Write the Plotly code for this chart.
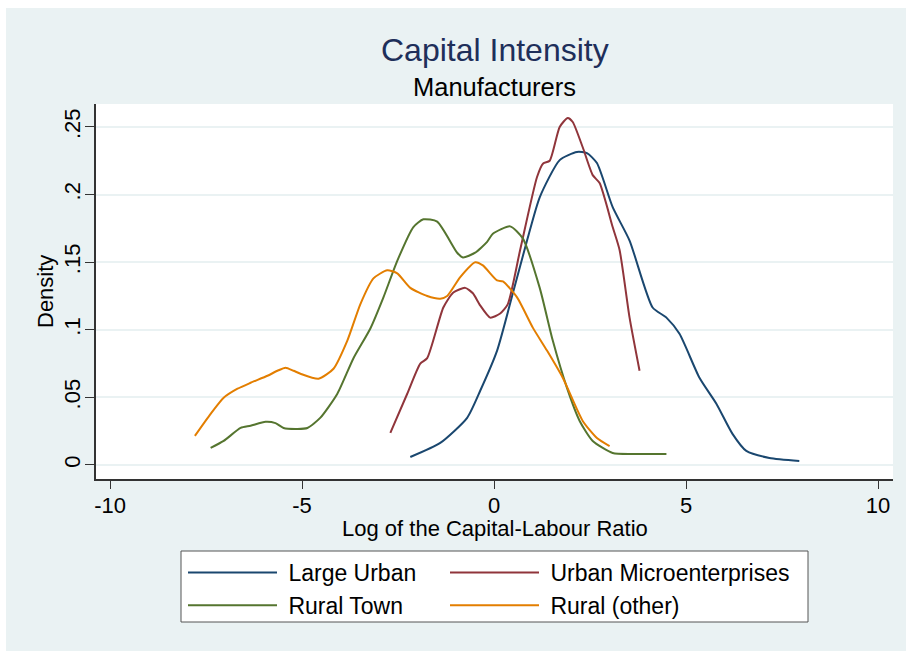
import plotly.graph_objects as go

# ---- data ----
large_urban_x = [-2.18, -1.40, -0.70, -0.36, 0.08, 0.49, 0.86, 1.19, 1.71, 2.16, 2.42, 2.68, 3.09, 3.53, 4.13, 4.49, 4.83, 5.35, 5.79, 6.21, 6.57, 7.17, 7.95]
large_urban_y = [0.0059, 0.0163, 0.0349, 0.0549, 0.0846, 0.127, 0.166, 0.198, 0.2255, 0.2315, 0.2307, 0.2233, 0.1907, 0.166, 0.1165, 0.109, 0.097, 0.0645, 0.0453, 0.023, 0.0104, 0.0052, 0.003]

urban_micro_x = [-2.70, -2.26, -1.92, -1.74, -1.32, -1.06, -0.75, -0.55, -0.36, -0.10, 0.16, 0.36, 0.68, 1.12, 1.28, 1.45, 1.71, 1.92, 2.05, 2.31, 2.57, 2.75, 3.09, 3.27, 3.53, 3.79]
urban_micro_y = [0.0237, 0.0527, 0.075, 0.079, 0.1165, 0.1276, 0.131, 0.127, 0.118, 0.109, 0.112, 0.119, 0.159, 0.213, 0.223, 0.225, 0.250, 0.2567, 0.2537, 0.235, 0.2144, 0.2085, 0.176, 0.159, 0.109, 0.0697]

rural_town_x = [-7.38, -7.04, -6.60, -6.34, -5.95, -5.69, -5.48, -5.12, -4.86, -4.52, -4.08, -3.66, -3.22, -2.88, -2.52, -2.10, -1.84, -1.48, -0.96, -0.81, -0.49, -0.18, -0.03, 0.42, 0.75, 1.19, 1.53, 1.90, 2.23, 2.57, 3.09, 3.61, 4.49]
rural_town_y = [0.0126, 0.0178, 0.0274, 0.029, 0.032, 0.031, 0.0274, 0.0267, 0.0274, 0.035, 0.0527, 0.079, 0.101, 0.124, 0.151, 0.176, 0.1817, 0.180, 0.157, 0.1535, 0.157, 0.165, 0.171, 0.1765, 0.1676, 0.131, 0.092, 0.057, 0.0326, 0.0178, 0.0089, 0.0082, 0.0082]

rural_other_x = [-7.79, -7.38, -7.04, -6.68, -6.34, -5.90, -5.64, -5.43, -5.22, -5.04, -4.57, -4.18, -3.82, -3.48, -3.14, -2.78, -2.52, -2.18, -1.74, -1.40, -1.22, -0.88, -0.49, -0.29, 0.08, 0.23, 0.60, 1.01, 1.38, 1.79, 2.31, 2.68, 3.01]
rural_other_y = [0.0215, 0.0378, 0.0497, 0.0564, 0.0608, 0.066, 0.0697, 0.072, 0.0697, 0.0675, 0.0638, 0.0712, 0.092, 0.119, 0.138, 0.144, 0.1417, 0.131, 0.125, 0.123, 0.125, 0.139, 0.150, 0.1476, 0.1365, 0.1358, 0.124, 0.1016, 0.0846, 0.0645, 0.0326, 0.020, 0.014]

# (name, x, y, colour, legend column)
series = [
    ("Large Urban", large_urban_x, large_urban_y, "#1a476f", "legend"),
    ("Urban Microenterprises", urban_micro_x, urban_micro_y, "#90353b", "legend2"),
    ("Rural Town", rural_town_x, rural_town_y, "#55752f", "legend"),
    ("Rural (other)", rural_other_x, rural_other_y, "#e37e00", "legend2"),
]

x_ticks = [-10, -5, 0, 5, 10]
x_tick_text = ["-10", "-5", "0", "5", "10"]
y_ticks = [0, 0.05, 0.1, 0.15, 0.2, 0.25]
y_tick_text = ["0", ".05", ".1", ".15", ".2", ".25"]

BG = "#eaf2f3"
FONT = "Liberation Sans, Arial, sans-serif"
W, H = 906, 651

# plot-area geometry in figure pixels (figure placed at the page's top-left corner)
L, R, T, B = 96, 893, 104, 479
PW, PH = R - L, B - T


def py2paper(py):
    return (B - py) / PH


def px2paper(px):
    return (px - L) / PW


fig = go.Figure()
for name, xs, ys, col, lg in series:
    fig.add_trace(go.Scatter(x=xs, y=ys, mode="lines", name=" " + name, legend=lg,
                             line=dict(color=col, width=2, shape="spline", smoothing=0.6)))

legend_common = dict(orientation="v", xanchor="left", yanchor="top",
                     bgcolor="rgba(0,0,0,0)", borderwidth=0,
                     font=dict(size=23), traceorder="normal", itemwidth=89)

fig.update_layout(
    width=W, height=H,
    paper_bgcolor=BG, plot_bgcolor="white",
    margin=dict(l=L, r=W - R, t=T, b=H - B, autoexpand=False),
    font=dict(family=FONT, size=22, color="black"),
    showlegend=True,
    legend=dict(x=px2paper(183), y=py2paper(551), **legend_common),
    legend2=dict(x=px2paper(445), y=py2paper(551), **legend_common),
    annotations=[
        dict(text="Capital Intensity", x=0.5, y=py2paper(50), xref="paper", yref="paper",
             showarrow=False, font=dict(size=32, color="#1e2f5a"), yanchor="middle"),
        dict(text="Manufacturers", x=0.5, y=py2paper(87), xref="paper", yref="paper",
             showarrow=False, font=dict(size=25.5, color="black"), yanchor="middle"),
        dict(text="Log of the Capital-Labour Ratio", x=0.5, y=py2paper(528), xref="paper", yref="paper",
             showarrow=False, font=dict(size=22), yanchor="middle"),
        dict(text="Density", x=px2paper(45), y=py2paper(292), xref="paper", yref="paper",
             showarrow=False, font=dict(size=22), textangle=-90, xanchor="center", yanchor="middle"),
    ],
)

fig.update_xaxes(range=[-10.365, 10.39], tickvals=x_ticks, ticktext=x_tick_text,
                 showgrid=False, zeroline=False,
                 showline=True, linecolor="#333333", linewidth=1.5,
                 ticks="outside", ticklen=8, tickcolor="#333333",
                 tickfont=dict(size=22), ticklabelstandoff=-2)
fig.update_yaxes(range=[-0.01036, 0.267], tickvals=y_ticks, ticktext=y_tick_text,
                 showgrid=True, gridcolor=BG, gridwidth=2, zeroline=False,
                 showline=True, linecolor="#333333", linewidth=1.5,
                 ticks="outside", ticklen=9, tickcolor="#333333",
                 tickangle=-90, tickfont=dict(size=22), ticklabelstandoff=-4)

# legend frame
fig.add_shape(type="rect", xref="paper", yref="paper",
              x0=px2paper(181), x1=px2paper(808), y0=py2paper(622), y1=py2paper(551),
              fillcolor="white", line=dict(color="#555555", width=1), layer="below")

# thin white border at the top and left edges, as in the reference image
fig.add_shape(type="rect", xref="paper", yref="paper", x0=px2paper(-2), x1=px2paper(910),
              y0=py2paper(8), y1=py2paper(-2), fillcolor="white", line_width=0, layer="below")
fig.add_shape(type="rect", xref="paper", yref="paper", x0=px2paper(-2), x1=px2paper(6),
              y0=py2paper(655), y1=py2paper(-2), fillcolor="white", line_width=0, layer="below")

fig.write_html("out.html",
               config={"displayModeBar": False},
               post_script="document.body.style.margin='0';"
                           "document.documentElement.style.overflow='hidden';"
                           "document.body.style.overflow='hidden';"
                           "document.documentElement.style.background='#eaf2f3';"
                           "document.body.style.background='#eaf2f3';")
